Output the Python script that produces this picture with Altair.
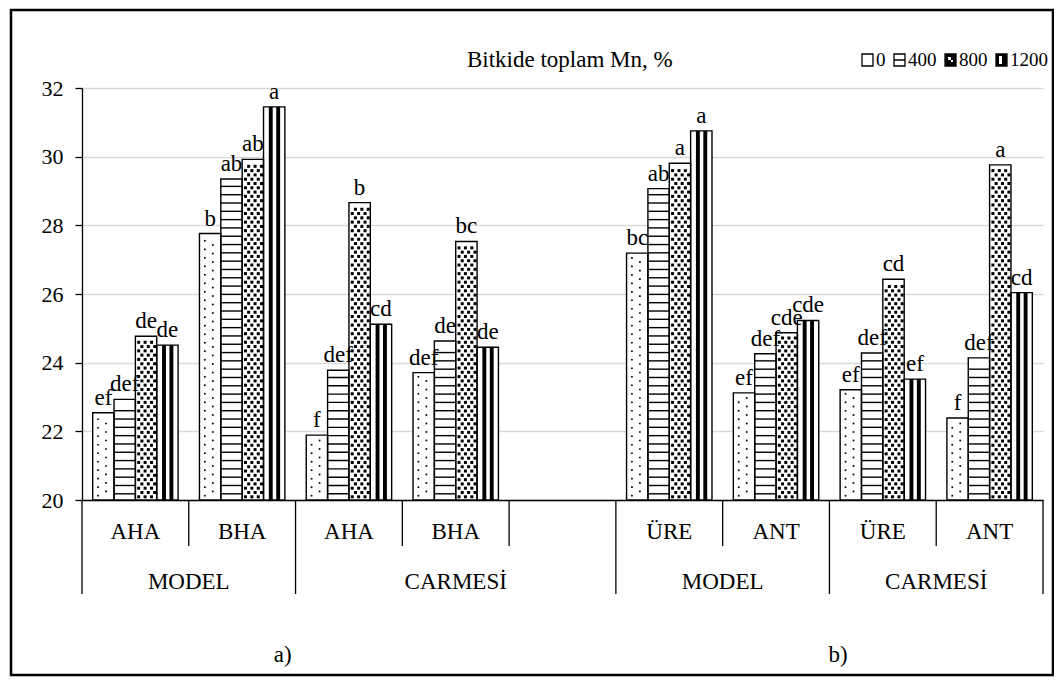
import altair as alt
import pandas as pd

# ---------------- data ----------------
treatments = ["AHA", "BHA", "AHA", "BHA", "", "ÜRE", "ANT", "ÜRE", "ANT"]
doses = ["0", "400", "800", "1200"]
v0    = [22.54, 27.76, 21.89, 23.71, None, 27.19, 23.12, 23.21, 22.39]
v400  = [22.93, 29.35, 23.78, 24.63, None, 29.07, 24.26, 24.28, 24.14]
v800  = [24.77, 29.92, 28.66, 27.53, None, 29.81, 24.87, 26.43, 29.76]
v1200 = [24.51, 31.45, 25.12, 24.45, None, 30.75, 25.23, 23.52, 26.04]
l0    = ["ef", "b", "f", "def", "", "bc", "ef", "ef", "f"]
l400  = ["def", "ab", "def", "de", "", "ab", "def", "def", "def"]
l800  = ["de", "ab", "b", "bc", "", "a", "cde", "cd", "a"]
l1200 = ["de", "a", "cd", "de", "", "a", "cde", "ef", "cd"]
groups = ["MODEL", "CARMESİ", "MODEL", "CARMESİ"]
group_start = [0, 2, 5, 7]
group_end = [2, 5, 7, 9]
panels = ["a)", "b)"]
panel_pos = [1.88, 7.08]
legend_title = "Bitkide toplam Mn, %"
y_ticks = [20, 22, 24, 26, 28, 30, 32]

FONT = "Liberation Serif"
FS = 23
W, H = 961, 412
PX = 9 / W          # slot units per pixel
UY = 12 / H         # value units per pixel

rows = []
for i in range(len(treatments)):
    if v0[i] is None:
        continue
    for k, (vals, labs) in enumerate(zip([v0, v400, v800, v1200], [l0, l400, l800, l1200])):
        rows.append(dict(slot=i, k=k, dose=doses[k], value=vals[i], letter=labs[i]))
df = pd.DataFrame(rows)

xscale = alt.Scale(domain=[0, 9], nice=False, zero=False)
yscale = alt.Scale(domain=[20, 32], nice=False, zero=False)
xaxis = alt.Axis(domain=True, domainColor="black", domainWidth=1.3, ticks=False,
                 labels=False, grid=False, title=None)
yaxis = alt.Axis(values=y_ticks, grid=True, gridColor="#d9d9d9", gridWidth=1.4,
                 domainColor="black", domainWidth=1.3, tickColor="black", tickSize=7,
                 tickWidth=1.3, labelFont=FONT, labelFontSize=22, labelColor="black",
                 labelPadding=12, title=None)


def X(f):
    return alt.X(f, type="quantitative", scale=xscale, axis=xaxis)


def Y(f):
    return alt.Y(f, type="quantitative", scale=yscale, axis=yaxis)


base = alt.Chart(df).transform_calculate(
    x0="datum.slot + 0.1 + 0.2 * datum.k",
).transform_calculate(
    x1="datum.x0 + 0.2", xc="datum.x0 + 0.1", base="20"
)

rect_enc = dict(x=X("x0"), x2=alt.X2("x1"), y=Y("base"), y2=alt.Y2("value"))

fill = base.mark_rect(color="white", opacity=1).encode(**rect_enc)

# dose 0: sparse staggered dots
S0 = 0.2475
dots0 = base.transform_filter("datum.k == 0").transform_calculate(
    n=f"sequence(0, floor((datum.value - 20) / {S0 / 2}) + 1)"
).transform_flatten(["n"]).transform_calculate(
    yy=f"20 + 0.1 + datum.n * {S0 / 2}",
    xx=f"datum.x0 + (datum.n % 2 == 0 ? 4.5 : 12.5) * {PX}",
).transform_calculate(
    yy2=f"datum.yy + {1.7 * UY}", xx2=f"datum.xx + {1.7 * PX}"
).transform_filter("datum.yy2 < datum.value - 0.08").mark_rect(color="black", opacity=1).encode(
    x=X("xx"), x2=alt.X2("xx2"), y=Y("yy"), y2=alt.Y2("yy2"))

# dose 400: horizontal lines
S4 = 0.242
lines400 = base.transform_filter("datum.k == 1").transform_calculate(
    n=f"sequence(0, floor((datum.value - 20) / {S4}) + 1)"
).transform_flatten(["n"]).transform_calculate(
    yy=f"20 + 0.16 + datum.n * {S4}"
).transform_calculate(
    yy2=f"datum.yy + {1.4 * UY}"
).transform_filter("datum.yy2 < datum.value - 0.12").mark_rect(color="black", opacity=1).encode(
    x=X("x0"), x2=alt.X2("x1"), y=Y("yy"), y2=alt.Y2("yy2"))

# dose 800: dense checker of small squares
S8 = 0.125
sq800 = base.transform_filter("datum.k == 2").transform_calculate(
    n=f"sequence(0, floor((datum.value - 20) / {S8}) + 1)", c="sequence(0, 3)"
).transform_flatten(["n"]).transform_flatten(["c"]).transform_calculate(
    yy=f"20 + 0.05 + datum.n * {S8}",
    xx=f"datum.x0 + ((datum.n % 2 == 0 ? 1.8 : 5.0) + 6.4 * datum.c) * {PX}",
).transform_calculate(
    yy2=f"datum.yy + {3.0 * UY}", xx2=f"datum.xx + {3.0 * PX}"
).transform_filter("datum.yy2 < datum.value - 0.05").mark_rect(color="black", opacity=1).encode(
    x=X("xx"), x2=alt.X2("xx2"), y=Y("yy"), y2=alt.Y2("yy2"))

# dose 1200: vertical stripes
stripes = base.transform_filter("datum.k == 3").transform_calculate(
    c="[0, 1]"
).transform_flatten(["c"]).transform_calculate(
    xx=f"datum.x0 + (5.3 + 7.4 * datum.c) * {PX}"
).transform_calculate(
    xx2=f"datum.xx + {3.9 * PX}"
).mark_rect(color="black", opacity=1).encode(
    x=X("xx"), x2=alt.X2("xx2"), y=Y("base"), y2=alt.Y2("value"))

outline = base.mark_rect(filled=False, color="black", strokeWidth=1.4).encode(**rect_enc)

letters = base.mark_text(font=FONT, fontSize=FS, baseline="bottom", align="center",
                         dy=-3, color="black").encode(
    x=X("xc"), y=Y("value"), text="letter:N")

# ---------------- category axis (custom) ----------------
long_pos = sorted(set(group_start + group_end))
short_pos = [p for p in range(len(treatments) + 1) if p not in long_pos]
sep_short = alt.Chart(pd.DataFrame({"pos": short_pos})).mark_rule(
    color="black", strokeWidth=1.3).encode(x=X("pos"), y=alt.value(H), y2=alt.value(H + 46))
sep_long = alt.Chart(pd.DataFrame({"pos": long_pos})).mark_rule(
    color="black", strokeWidth=1.3).encode(x=X("pos"), y=alt.value(H), y2=alt.value(H + 94))

treat_df = pd.DataFrame({"pos": [i + 0.5 for i, t in enumerate(treatments) if t],
                         "label": [t for t in treatments if t]})
treat_txt = alt.Chart(treat_df).mark_text(font=FONT, fontSize=FS, baseline="middle",
                                          color="black").encode(
    x=X("pos"), y=alt.value(H + 32), text="label:N")

group_df = pd.DataFrame({"pos": [(s + e) / 2 for s, e in zip(group_start, group_end)],
                         "label": groups})
group_txt = alt.Chart(group_df).mark_text(font=FONT, fontSize=FS, baseline="middle",
                                          color="black").encode(
    x=X("pos"), y=alt.value(H + 82), text="label:N")

panel_df = pd.DataFrame({"pos": panel_pos, "label": panels})
panel_txt = alt.Chart(panel_df).mark_text(font=FONT, fontSize=FS, baseline="middle",
                                          color="black").encode(
    x=X("pos"), y=alt.value(H + 155), text="label:N")

# ---------------- legend (custom) ----------------
one = pd.DataFrame({"k": [0]})
leg_layers = [
    alt.Chart(one).mark_text(font=FONT, fontSize=FS, baseline="middle", align="left",
                             color="black").encode(
        x=alt.value(385), y=alt.value(-28), text=alt.value(legend_title))
]
sq_x = [780, 812, 863, 914]
tx_x = [794, 826, 877, 928]
sy0, sy1 = -34, -22
for j, d in enumerate(doses):
    sx = sq_x[j]
    leg_layers.append(alt.Chart(one).mark_rect(color="white", stroke="black", strokeWidth=1.3).encode(
        x=alt.value(sx), x2=alt.value(sx + 11), y=alt.value(sy0), y2=alt.value(sy1)))
    if d == "400":
        leg_layers.append(alt.Chart(one).mark_rule(color="black", strokeWidth=1.5).encode(
            x=alt.value(sx), x2=alt.value(sx + 11), y=alt.value((sy0 + sy1) / 2)))
    if d == "800":
        leg_layers.append(alt.Chart(one).mark_rect(color="black").encode(
            x=alt.value(sx), x2=alt.value(sx + 11), y=alt.value(sy0), y2=alt.value(sy1)))
        leg_layers.append(alt.Chart(one).mark_rect(color="white").encode(
            x=alt.value(sx + 3), x2=alt.value(sx + 6), y=alt.value(sy0 + 3), y2=alt.value(sy0 + 6)))
        leg_layers.append(alt.Chart(one).mark_rect(color="white").encode(
            x=alt.value(sx + 6), x2=alt.value(sx + 8), y=alt.value(sy0 + 6), y2=alt.value(sy0 + 8)))
    if d == "1200":
        leg_layers.append(alt.Chart(one).mark_rect(color="black").encode(
            x=alt.value(sx), x2=alt.value(sx + 11), y=alt.value(sy0), y2=alt.value(sy1)))
        leg_layers.append(alt.Chart(one).mark_rect(color="white").encode(
            x=alt.value(sx + 3), x2=alt.value(sx + 6), y=alt.value(sy0 + 2), y2=alt.value(sy1 - 2)))
    leg_layers.append(alt.Chart(one).mark_text(font=FONT, fontSize=19, baseline="middle",
                                               align="left", color="black").encode(
        x=alt.value(tx_x[j]), y=alt.value(-28), text=alt.value(d)))

border = alt.Chart(one).mark_rect(filled=False, color="black", strokeWidth=2.5).encode(
    x=alt.value(-71), x2=alt.value(971), y=alt.value(-78), y2=alt.value(587))

chart = alt.layer(
    fill, dots0, lines400, sq800, stripes, outline, letters,
    sep_short, sep_long, treat_txt, group_txt, panel_txt, *leg_layers, border
).properties(
    width=W, height=H,
    padding={"left": 74, "top": 80, "right": 11, "bottom": 179},
    autosize=alt.AutoSizeParams(type="none"),
    background="white",
).configure_view(strokeWidth=0)

chart.save("out.html", embed_options={"renderer": "svg", "actions": False})
